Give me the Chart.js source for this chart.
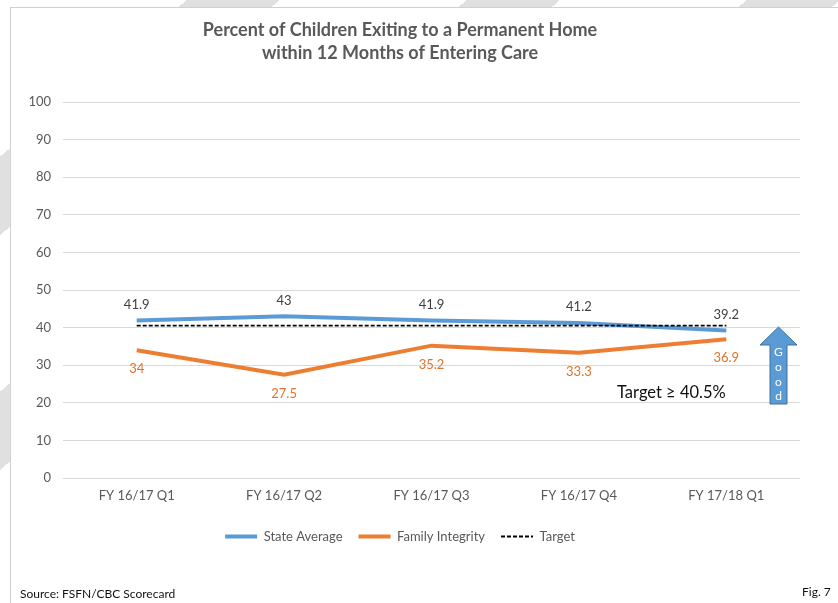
<!DOCTYPE html>
<html>
<head>
<meta charset="utf-8">
<script src="https://cdn.jsdelivr.net/npm/chart.js@4"></script>
<style>
  html, body { margin: 0; padding: 0; }
  body {
    width: 838px; height: 603px; overflow: hidden; position: relative;
    font-family: Lato, "Open Sans", sans-serif;
    background: repeating-linear-gradient(140deg, #fff 0px, #fff 120px, #e0e0e0 120px, #e0e0e0 180px);
  }
  #box { position: absolute; left: 10px; top: 7px; width: 840px; height: 610px; background: #fff; border: 1px solid #d0d0d0; }
  #chart { position: absolute; left: 0; top: 0; }
  .txt { position: absolute; white-space: nowrap; }
</style>
</head>
<body>
<div id="box"></div>
<canvas id="chart" width="838" height="603"></canvas>
<div class="txt" style="left:617px; top:382px; font-size:16.5px; color:#111;">Target ≥ 40.5%</div>
<svg class="txt" style="left:759px; top:326px;" width="40" height="80">
  <polygon points="19.5,1 38,19 28,19 28,78 11,78 11,19 1,19" fill="#5b9bd5" stroke="#41719c" stroke-width="1"/>
  <text x="19.5" y="30" fill="#fff" font-family="Lato, sans-serif" font-size="12" text-anchor="middle">
    <tspan x="19.5" dy="0">G</tspan><tspan x="19.5" dy="15">o</tspan><tspan x="19.5" dy="15">o</tspan><tspan x="19.5" dy="14">d</tspan>
  </text>
</svg>
<div class="txt" style="left:20px; top:586px; font-size:12px; color:#111;">Source: FSFN/CBC Scorecard</div>
<div class="txt" style="left:802px; top:584px; font-size:12px; color:#111;">Fig. 7</div>
<script>
const quarters = ['FY 16/17 Q1', 'FY 16/17 Q2', 'FY 16/17 Q3', 'FY 16/17 Q4', 'FY 17/18 Q1'];
const stateAverage = [41.9, 43, 41.9, 41.2, 39.2];
const familyIntegrity = [34, 27.5, 35.2, 33.3, 36.9];
const target = [40.5, 40.5, 40.5, 40.5, 40.5];

// value labels: state above the line, family below
const valueLabels = {
  id: 'valueLabels',
  afterDatasetsDraw(chart) {
    const ctx = chart.ctx;
    ctx.save();
    ctx.font = '13px Lato, sans-serif';
    ctx.textAlign = 'center';
    ctx.textBaseline = 'middle';
    [[0, -16, '#404040'], [1, 19, '#e0732c']].forEach(([di, dy, col]) => {
      const meta = chart.getDatasetMeta(di);
      const vals = chart.data.datasets[di].data;
      ctx.fillStyle = col;
      meta.data.forEach((pt, i) => {
        ctx.fillText(String(vals[i]), pt.x, pt.y + dy);
      });
    });
    ctx.restore();
  }
};

new Chart(document.getElementById('chart').getContext('2d'), {
  type: 'line',
  data: {
    labels: quarters,
    datasets: [
      {
        label: 'State Average',
        data: stateAverage,
        borderColor: '#5b9bd5',
        backgroundColor: '#5b9bd5',
        borderWidth: 4,
        pointRadius: 0,
        tension: 0,
        order: 2
      },
      {
        label: 'Family Integrity',
        data: familyIntegrity,
        borderColor: '#ed7d31',
        backgroundColor: '#ed7d31',
        borderWidth: 4,
        pointRadius: 0,
        tension: 0,
        order: 3
      },
      {
        label: 'Target',
        data: target,
        borderColor: '#000',
        backgroundColor: '#000',
        borderWidth: 1.8,
        borderDash: [4, 2],
        pointRadius: 0,
        tension: 0,
        order: 1
      }
    ]
  },
  options: {
    responsive: false,
    animation: false,
    layout: { padding: { left: 0, right: 38, top: 0, bottom: 50 } },
    plugins: {
      title: {
        display: true,
        text: ['Percent of Children Exiting to a Permanent Home', 'within 12 Months of Entering Care'],
        color: '#595959',
        font: { family: 'Lato', size: 18, weight: 'bold', lineHeight: 1.25 },
        padding: { top: 19, bottom: 38 }
      },
      legend: {
        position: 'bottom',
        labels: {
          usePointStyle: true,
          pointStyle: 'line',
          boxWidth: 32,
          pointStyleWidth: 32,
          color: '#595959',
          font: { family: 'Lato', size: 13 },
          padding: 16,
          sort: (a, b) => a.datasetIndex - b.datasetIndex,
          generateLabels(chart) {
            const items = Chart.defaults.plugins.legend.labels.generateLabels(chart);
            items.forEach(it => {
              const ds = chart.data.datasets[it.datasetIndex];
              it.pointStyle = 'line';
              it.strokeStyle = ds.borderColor;
              it.lineWidth = ds.borderWidth;
              it.lineDash = ds.borderDash || [];
            });
            return items;
          }
        }
      },
      tooltip: { enabled: false }
    },
    scales: {
      x: {
        offset: true,
        grid: { display: false, drawTicks: false },
        border: { display: false },
        ticks: { color: '#595959', font: { family: 'Lato', size: 13 }, padding: 10, maxRotation: 0 },
        afterFit(scale) { scale.height = 36; }
      },
      y: {
        min: 0,
        max: 100,
        ticks: { stepSize: 10, color: '#595959', font: { family: 'Lato', size: 13 }, padding: 12 },
        grid: { color: '#d9d9d9', drawTicks: false },
        border: { display: false },
        afterFit(scale) { scale.width = 63; }
      }
    }
  },
  plugins: [valueLabels]
});
</script>
</body>
</html>
